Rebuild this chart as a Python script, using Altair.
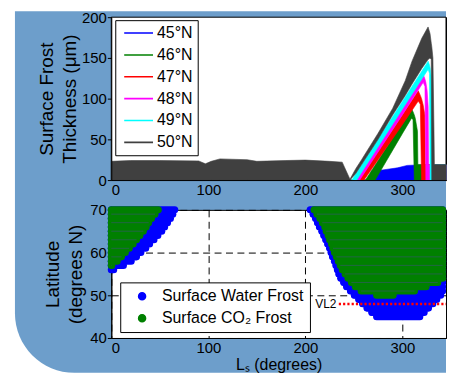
import altair as alt
import pandas as pd

BG = "#6d9ecb"
FONT = "Liberation Sans"
XMAX = 345

# ---------------- Top panel: surface frost thickness (um) vs Ls ----------------
LAT_LABELS = ["45°N", "46°N", "47°N", "48°N", "49°N", "50°N"]
LAT_COLORS = ["#0000ff", "#008000", "#ff0000", "#ff00ff", "#00ffff", "#404040"]

ls45 = [266.5, 268, 280, 295, 305, 315, 345]
hi45 = [0, 11, 12.5, 15, 18, 18.5, 18.5]
lo45 = [0, 0, 0, 0, 0, 0, 0]

ls46 = [262, 272, 300, 309.5, 311, 312.3, 313.3, 315.6, 316, 345]
hi46 = [0, 18.4, 70, 87.6, 84, 80, 76, 60, 19, 19]
lo46 = [0, 0, 57, 76, 74, 0, 0, 0, 0, 0]

ls47 = [255.5, 260.5, 300, 316.4, 318.5, 319.8, 321.5, 323.2, 323.6, 345]
hi47 = [0, 9, 80, 109.6, 104, 100, 92, 80, 19, 19]
lo47 = [0, 0, 68, 97, 93, 0, 0, 0, 0, 0]

ls48 = [251, 256, 300, 321.5, 323.3, 324.2, 325.5, 326.6, 327, 345]
hi48 = [0, 9.2, 90, 130, 124, 120, 110, 90, 19, 19]
lo48 = [0, 0, 80, 120, 115, 0, 0, 0, 0, 0]

ls49 = [248, 253, 300, 326.6, 328, 328.6, 329.6, 330.7, 331.2, 345]
hi49 = [0, 9.3, 96.6, 146, 141, 138, 128, 100, 19, 19]
lo49 = [0, 0, 87, 136, 131, 0, 0, 0, 0, 0]

ls50 = [0, 20, 50, 90, 97, 103, 112, 140, 150, 180, 200, 225, 238, 246, 252,
        258, 275, 290, 303, 310, 320, 326.5, 328.5, 329.8, 330.3, 331.5, 332.6,
        333, 340, 345]
hi50 = [23, 24, 24, 23.5, 20, 23, 26, 25, 23, 24, 24.5, 23, 22, 1, 14,
        25, 57.5, 88, 122, 146, 174, 188, 180, 168, 164, 150, 60,
        19, 19, 19]
lo50 = [0, 0, 0, 0, 0, 0, 0, 0, 0, 0, 0, 0, 0, 0, 8,
        19, 50, 80, 104, 118, 137, 148, 150, 148, 0, 0, 0,
        0, 0, 0]

series = {
    "45°N": (ls45, hi45, lo45),
    "46°N": (ls46, hi46, lo46),
    "47°N": (ls47, hi47, lo47),
    "48°N": (ls48, hi48, lo48),
    "49°N": (ls49, hi49, lo49),
    "50°N": (ls50, hi50, lo50),
}
top_rows = []
for lab in LAT_LABELS:
    ls, hi, lo = series[lab]
    for a, b, c in zip(ls, hi, lo):
        top_rows.append({"lat": lab, "ls": a, "hi": b, "lo": c})
top_df = pd.DataFrame(top_rows)

# ---------------- Bottom panel: frost occurrence (latitude vs Ls) ----------------
KINDS = ["Surface Water Frost", "Surface CO\u2082 Frost"]
KIND_COLORS = ["#0000ff", "#008000"]

# early-year (from Ls 0) rows: latitude and last Ls with frost
water_left_lat = [70, 69, 68, 67, 66, 65, 64, 63, 62, 61, 60, 59, 58, 57, 56]
water_left_end = [65.4, 63.4, 61, 58, 55, 52, 48, 44, 39.5, 35.5, 30.5, 26, 20.5, 12.5, 2.5]
co2_left_lat = [70, 69, 68, 67, 66, 65, 64, 63, 62, 61, 60, 59, 58, 57]
co2_left_end = [48.5, 45, 41.5, 38.5, 36, 33, 29.5, 26, 22.5, 18.5, 14.5, 10.5, 6, 0.5]

# late-year rows: latitude, first and last Ls with frost (341.5 = runs past the crop)
water_right_lat = list(range(70, 44, -1))
water_right_start = [205, 208, 210.5, 212.5, 214.5, 217, 219, 221, 223, 225, 226.5, 228, 230,
                     231.5, 233, 234.5, 236.5, 239.5, 242.5, 246.5, 250.5, 255, 259, 263.5,
                     268.5, 273.5]
water_right_end = [341.5] * 20 + [339.5, 335.5, 331.5, 327, 322.5, 318]
co2_right_lat = list(range(70, 49, -1))
co2_right_start = [209, 212, 215, 217.5, 220, 221.5, 223.5, 225, 227, 228.5, 230, 232, 234,
                   236, 238, 241, 244, 247.5, 251.5, 257.5, 273.5]
co2_right_end = [341.5] * 17 + [336.5, 324.5, 312.5, 290.5]

vl2_lat = [47.97]
vl2_ls = [234.5]
vl2_ls2 = [XMAX]
vl2_label_ls = [232]

rows = []
for la, e in zip(water_left_lat, water_left_end):
    rows.append({"kind": KINDS[0], "lat": la, "ls": 0, "ls2": e})
for la, s, e in zip(water_right_lat, water_right_start, water_right_end):
    rows.append({"kind": KINDS[0], "lat": la, "ls": s, "ls2": e})
for la, e in zip(co2_left_lat, co2_left_end):
    rows.append({"kind": KINDS[1], "lat": la, "ls": 0, "ls2": e})
for la, s, e in zip(co2_right_lat, co2_right_start, co2_right_end):
    rows.append({"kind": KINDS[1], "lat": la, "ls": s, "ls2": e})
bot_df = pd.DataFrame(rows)

vl2_df = pd.DataFrame({"lat": vl2_lat, "ls": vl2_ls, "ls2": vl2_ls2})
vl2_txt = pd.DataFrame({"lat": vl2_lat, "ls": vl2_label_ls, "label": ["VL2"]})

W = 337
H_TOP = 164
H_BOT = 129
GAP = 30
one = pd.DataFrame({"k": [0]})

# ---------------- Top chart ----------------
x_top = alt.X("ls:Q", scale=alt.Scale(domain=[0, XMAX], nice=False, zero=False),
              axis=alt.Axis(values=[0, 100, 200, 300], ticks=False, labelPadding=3,
                            title=None, grid=False, zindex=1, labelFontSize=15))
y_top = alt.Y("hi:Q", stack=None, scale=alt.Scale(domain=[0, 200], nice=False, zero=False),
              axis=alt.Axis(values=[0, 50, 100, 150, 200], tickSize=4, labelPadding=1,
                            grid=False, zindex=1, labelFontSize=15,
                            title=["Surface Frost", "Thickness (\u03bcm)"],
                            titleFontSize=19, titlePadding=2, titleLineHeight=23))
lat_scale = alt.Scale(domain=LAT_LABELS, range=LAT_COLORS)
leg_top = alt.Legend(orient="none", legendX=4, legendY=3, title=None, symbolType="stroke",
                     symbolSize=841, symbolStrokeWidth=1.6, clipHeight=16, rowPadding=6,
                     padding=5, symbolOffset=3, labelOffset=3, labelFontSize=16,
                     strokeColor="black", fillColor="white", labelColor="black")

bg_rect = alt.Chart(one).mark_rect(color=BG, cornerRadiusBottomLeft=60, clip=False).encode(
    x=alt.value(-97), x2=alt.value(W), y=alt.value(-6), y2=alt.value(358))
plot_rect = alt.Chart(one).mark_rect(fill="white", stroke="black", strokeWidth=1).encode(
    x=alt.value(0), x2=alt.value(W), y=alt.value(0), y2=alt.value(H_TOP))
areas = alt.Chart(top_df).mark_area(strokeWidth=0.6, opacity=1, interpolate="linear").encode(
    x=x_top, y=y_top, y2="lo:Q",
    fill=alt.Fill("lat:N", scale=lat_scale, legend=leg_top),
    stroke=alt.Stroke("lat:N", scale=lat_scale, legend=leg_top),
)
top = alt.layer(bg_rect, plot_rect, areas).properties(width=W, height=H_TOP)

# ---------------- Bottom chart ----------------
x_ax = alt.Axis(values=[0, 100, 200, 300], ticks=False, labelPadding=3, grid=True,
                gridColor="black", gridDash=[7, 4.5], gridWidth=1, gridOpacity=1,
                title="L\u209b (degrees)", titleFontSize=16, titlePadding=1, labelFontSize=15)
y_ax = alt.Axis(values=[40, 50, 60, 70], tickSize=4, labelPadding=1, grid=True,
                gridColor="black", gridDash=[7, 4.5], gridWidth=1, gridOpacity=1,
                title=["Latitude", "(degrees N)"], titleFontSize=19, titlePadding=4,
                titleLineHeight=23, labelFontSize=15)
x_bot = alt.X("ls:Q", scale=alt.Scale(domain=[0, XMAX], nice=False, zero=False), axis=x_ax)
y_bot = alt.Y("lat:Q", scale=alt.Scale(domain=[40, 70], nice=False, zero=False), axis=y_ax)

kind_scale = alt.Scale(domain=KINDS, range=KIND_COLORS)
leg_bot = alt.Legend(orient="none", legendX=9, legendY=73, title=None, symbolType="circle",
                     symbolSize=50, clipHeight=16, rowPadding=6,
                     padding=6, symbolOffset=8, labelOffset=12, labelFontSize=16,
                     strokeColor="black", fillColor="white", labelColor="black")

# frost dots at the first Ls of each row (these give the legend its filled dots)
dots = alt.Chart(bot_df).mark_circle(size=40, opacity=1).encode(
    x=x_bot, y=y_bot, color=alt.Color("kind:N", scale=kind_scale, legend=leg_bot))
frost = alt.Chart(bot_df).mark_rule(strokeWidth=7.1, strokeCap="round").encode(
    x=x_bot, x2="ls2:Q", y=y_bot,
    color=alt.Color("kind:N", scale=kind_scale, legend=leg_bot),
)
seams = alt.Chart(bot_df).transform_filter(
    "datum.kind == '%s' && datum.lat %% 2 == 1" % KINDS[1]
).mark_rule(strokeWidth=0.8, color="#2a5f55", strokeCap="butt").encode(
    x=x_bot, x2="ls2:Q", y=y_bot)
vl2_line = alt.Chart(vl2_df).mark_rule(color="#ff0000", strokeWidth=2.5,
                                       strokeDash=[2.2, 2.1]).encode(
    x=x_bot, x2="ls2:Q", y=y_bot)
vl2_text = alt.Chart(vl2_txt).mark_text(align="right", baseline="middle", fontSize=12,
                                        color="black").encode(
    x=x_bot, y=y_bot, text="label:N")
bottom = alt.layer(dots, frost, seams, vl2_line, vl2_text).properties(width=W, height=H_BOT)

chart = alt.vconcat(top, bottom, spacing=GAP, bounds="flush").resolve_scale(
    x="independent", y="independent", color="independent", fill="independent",
    stroke="independent"
).properties(
    padding={"left": 6, "top": 0, "right": 0, "bottom": 0}
).configure(
    font=FONT, background="white"
).configure_view(
    fill="white", stroke="black", strokeWidth=1
).configure_axis(
    labelColor="black", titleColor="black", domainColor="black", tickColor="black",
    titleFontWeight="normal", labelFont=FONT, titleFont=FONT
).configure_legend(
    labelFont=FONT
)

chart.save("out.html", embed_options={"renderer": "svg", "actions": False})
